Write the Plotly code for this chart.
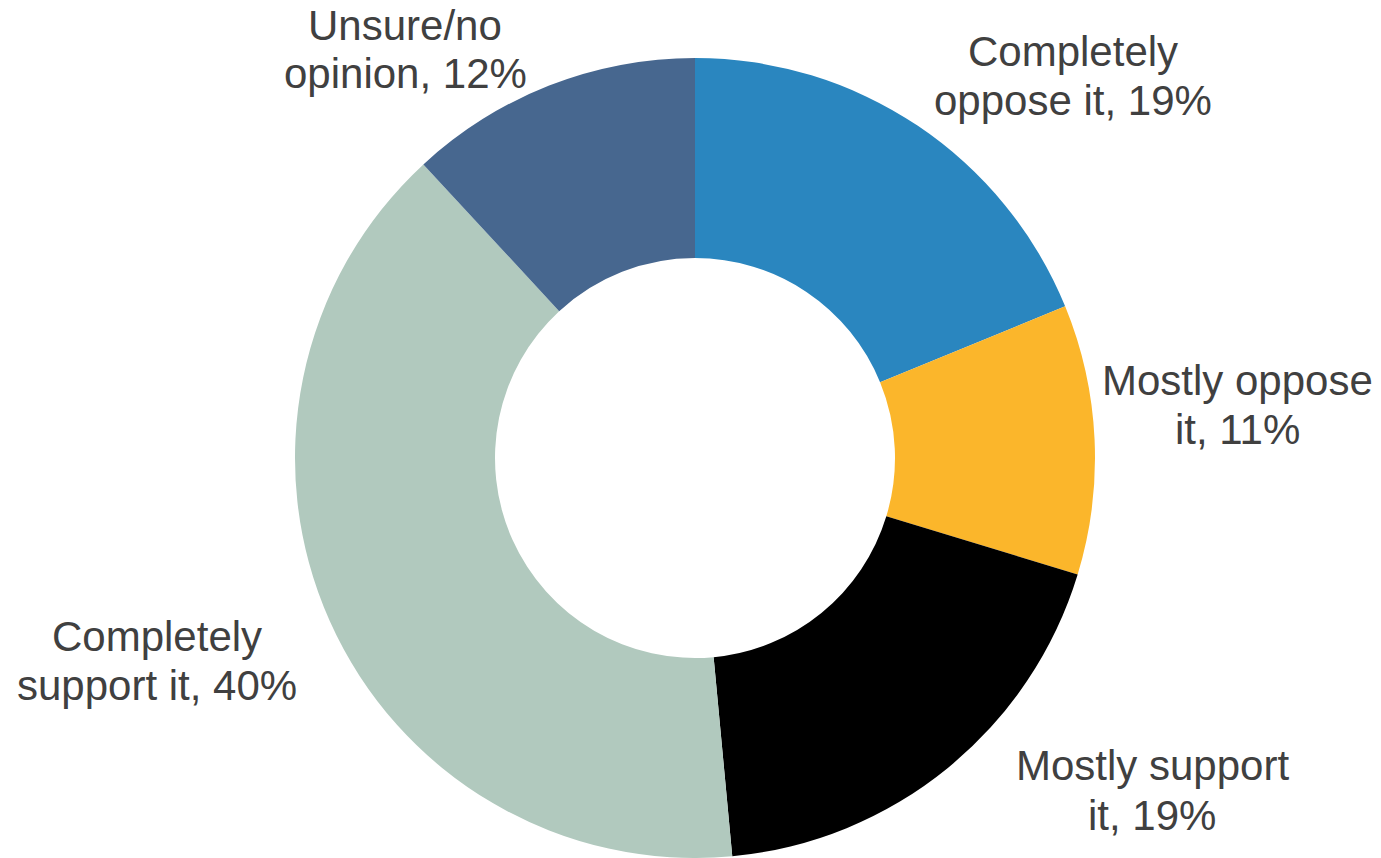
import plotly.graph_objects as go

# Survey responses, listed clockwise from 12 o'clock
categories = ["Completely oppose it", "Mostly oppose it", "Mostly support it",
              "Completely support it", "Unsure/no opinion"]
values = [19, 11, 19, 40, 12]
colors = ["#2A86BF", "#FBB62B", "#000000", "#B1C9BE", "#47678F"]

# Label text broken over two lines; the value is appended to the second line
label_first_lines = ["Completely", "Mostly oppose", "Mostly support", "Completely", "Unsure/no"]
label_second_lines = ["oppose it", "it", "it", "support it", "opinion"]

# Pixel centres of each label line (x, y_line1, y_line2)
label_pos = [
    (1073, 52, 101),
    (1237, 380, 429),
    (1152, 765, 815),
    (157, 636, 685),
    (405, 26, 73),
]

W, H = 1381, 858

fig = go.Figure(
    go.Pie(
        labels=categories,
        values=values,
        sort=False,
        direction="clockwise",
        rotation=0,
        hole=0.5,
        marker=dict(colors=colors, line=dict(width=0)),
        textinfo="none",
        hoverinfo="label+percent",
        showlegend=False,
        domain=dict(x=[295 / W, 1095 / W], y=[0, 800 / H]),
    )
)

annotations = []
for first, second, v, (px, py1, py2) in zip(label_first_lines, label_second_lines, values, label_pos):
    for txt, py in ((first, py1), (f"{second}, {v}%", py2)):
        annotations.append(dict(
            text=txt, x=px / W, y=1 - py / H, xref="paper", yref="paper",
            xanchor="center", yanchor="middle", showarrow=False,
            font=dict(family="Liberation Sans, Arial, sans-serif", size=42, color="#404040"),
        ))

fig.update_layout(
    width=W, height=H,
    margin=dict(l=0, r=0, t=0, b=0),
    paper_bgcolor="white",
    plot_bgcolor="white",
    annotations=annotations,
)

fig.write_html("out.html")
